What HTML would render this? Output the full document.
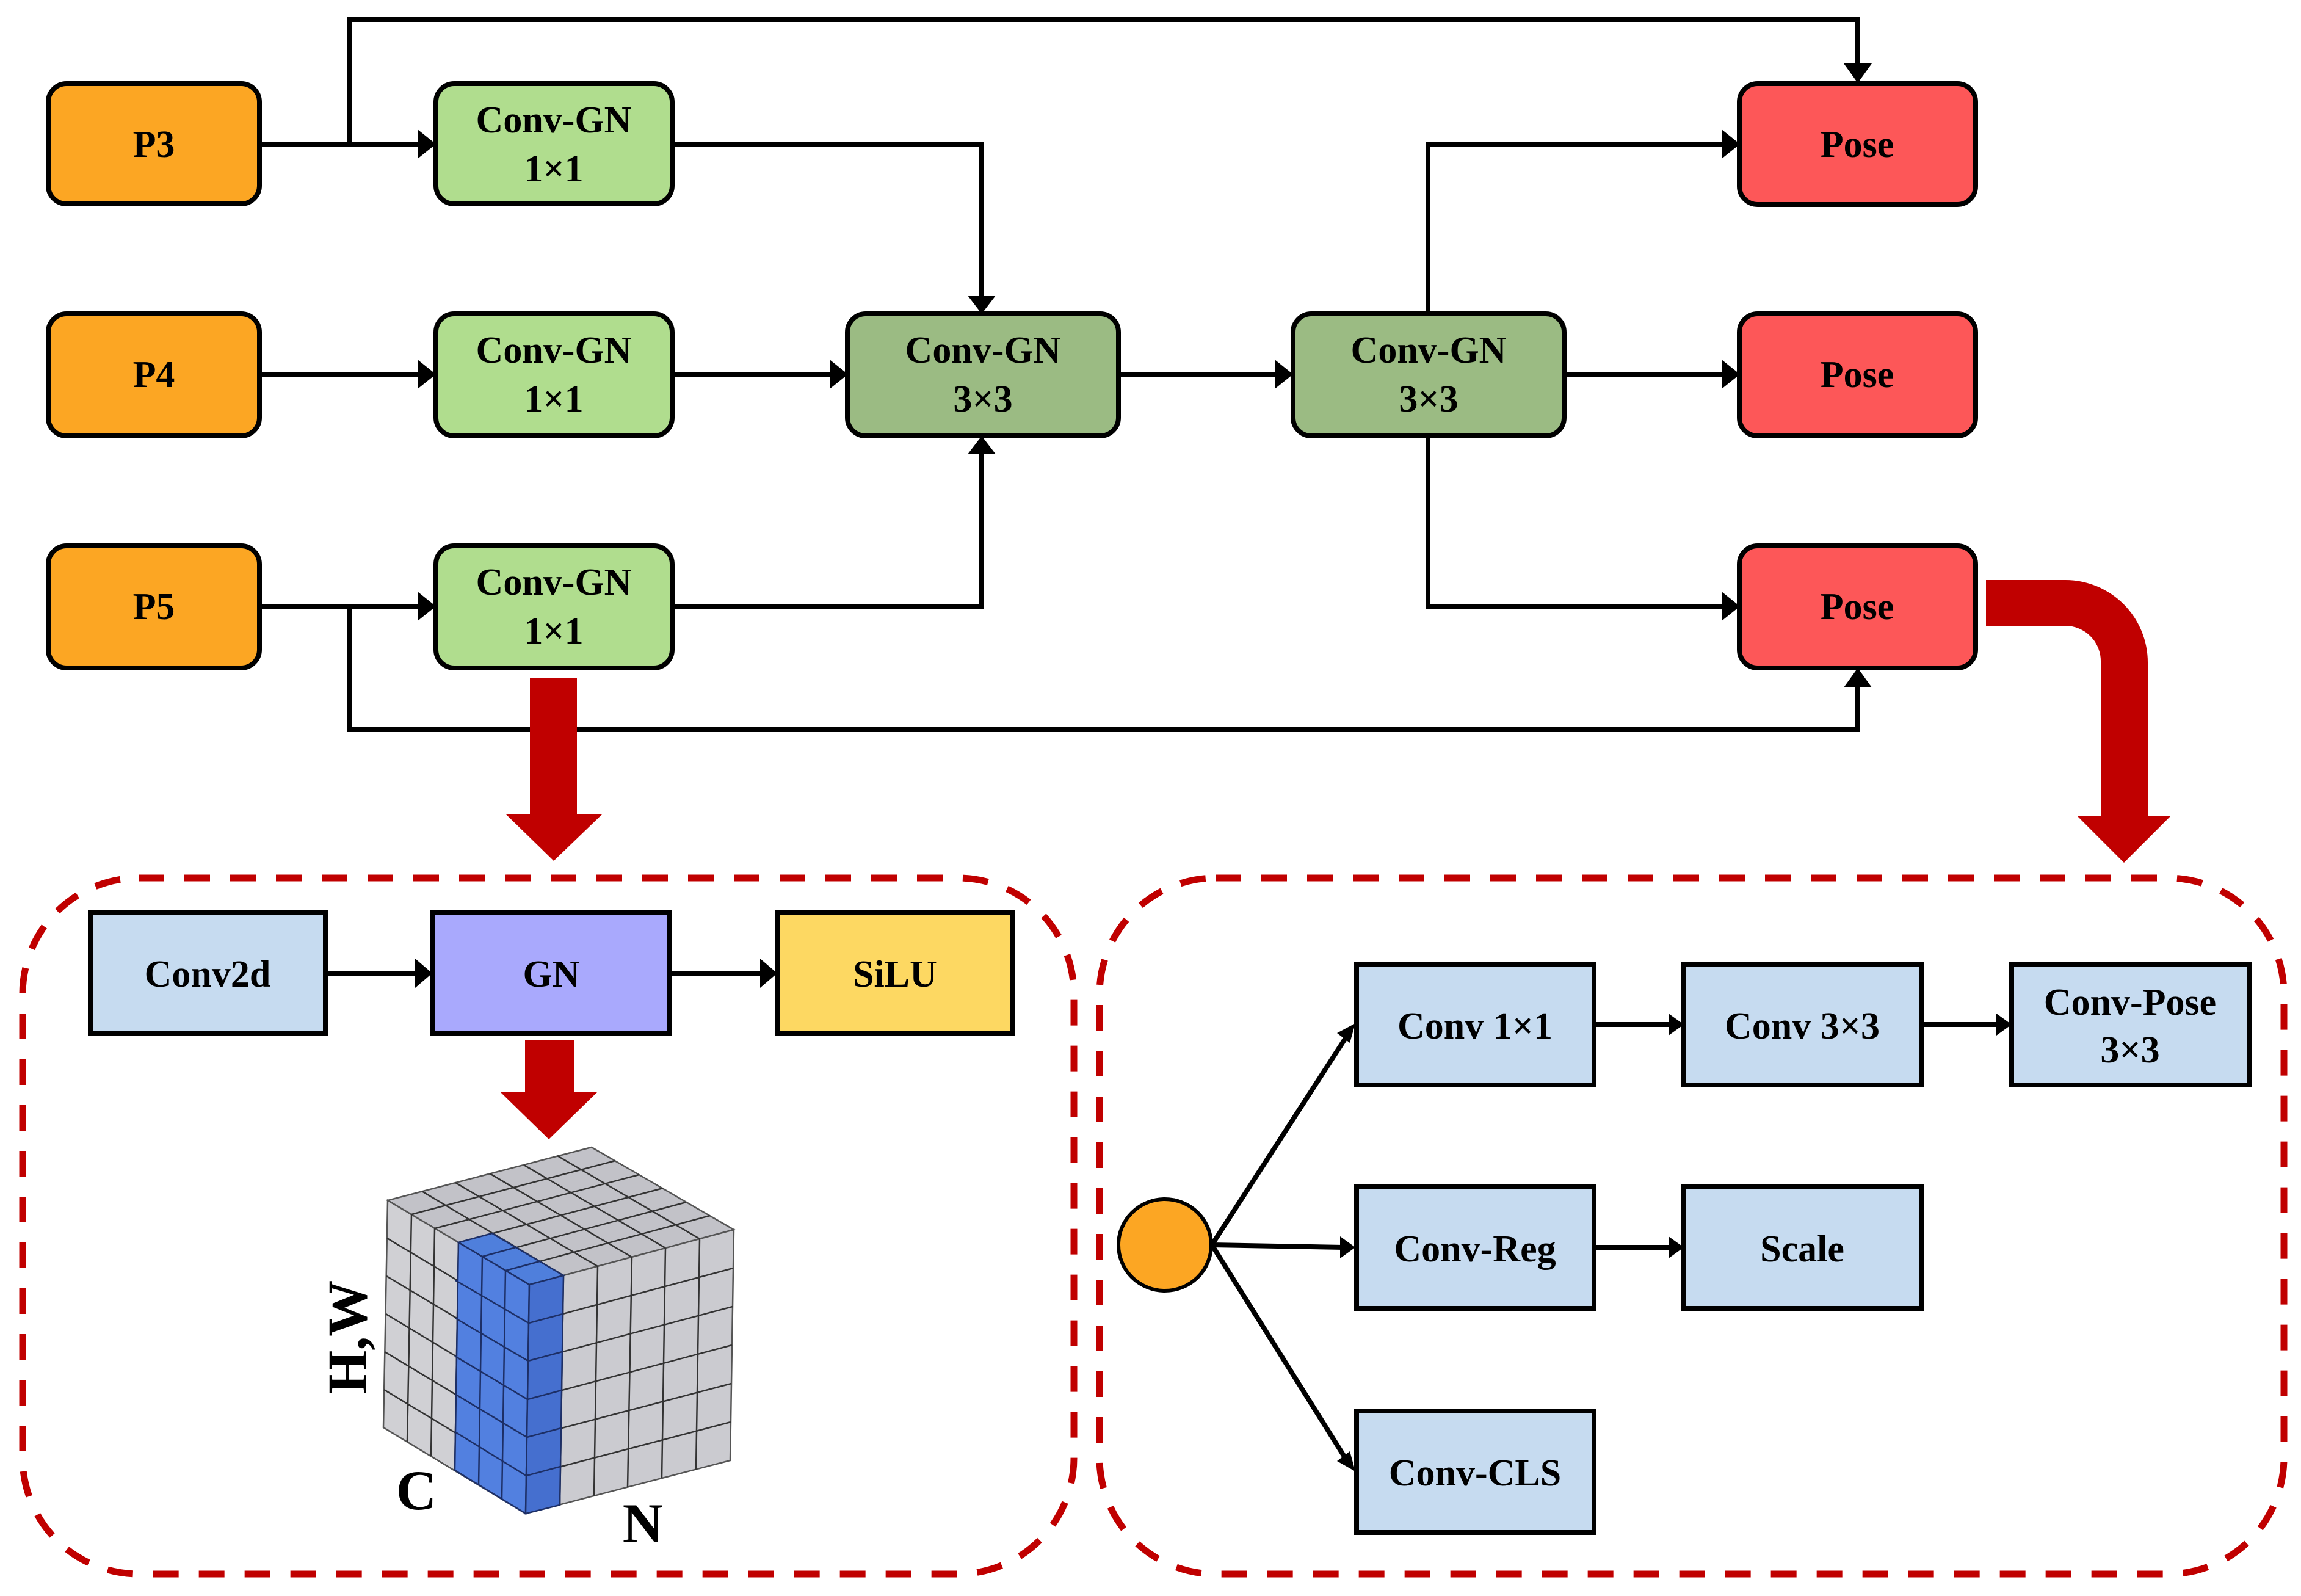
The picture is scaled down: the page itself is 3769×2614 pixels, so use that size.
<!DOCTYPE html>
<html><head><meta charset="utf-8"><style>
html,body{margin:0;padding:0;background:#fff}
svg{display:block}
svg text{font-family:"Liberation Serif","Times New Roman",serif !important;font-weight:bold;fill:#000}
</style></head><body>
<svg width="3769" height="2614" viewBox="0 0 3769 2614" xmlns="http://www.w3.org/2000/svg" font-family="Liberation Serif, serif" font-weight="bold">
<g stroke="#000" stroke-width="8" fill="none">
<polyline points="425,236 572,236"/>
<polyline points="572,236 572,32 3043,32 3043,110"/>
<polyline points="572,236 690,236"/>
<polyline points="425,613 690,613"/>
<polyline points="425,993 690,993"/>
<polyline points="572,993 572,1195 3043,1195 3043,1120"/>
<polyline points="1101,236 1608,236 1608,490"/>
<polyline points="1101,613 1365,613"/>
<polyline points="1101,993 1608,993 1608,738"/>
<polyline points="1832,613 2095,613"/>
<polyline points="2339,513 2339,236 2826,236"/>
<polyline points="2562,613 2826,613"/>
<polyline points="2339,715 2339,993 2826,993"/>
<polyline points="535,1594 682,1594"/>
<polyline points="1099,1594 1247,1594"/>
<polyline points="2612,1678 2735,1678"/>
<polyline points="3147,1678 3272,1678"/>
<polyline points="2612,2043 2735,2043"/>
<polyline points="1985,2039 2200,2043"/>
<line x1="1985" y1="2039" x2="2206" y2="1697"/>
<line x1="1985" y1="2039" x2="2206" y2="2392"/>
</g>
<g fill="#000">
<polygon points="714,236 684,212 684,260"/>
<polygon points="714,613 684,589 684,637"/>
<polygon points="714,993 684,969 684,1017"/>
<polygon points="1389,613 1359,589 1359,637"/>
<polygon points="2118,613 2088,589 2088,637"/>
<polygon points="2850,236 2820,212 2820,260"/>
<polygon points="2850,613 2820,589 2820,637"/>
<polygon points="2850,993 2820,969 2820,1017"/>
<polygon points="1608,514 1585,484 1631,484"/>
<polygon points="1608,714 1585,744 1631,744"/>
<polygon points="3043,136 3020,104 3066,104"/>
<polygon points="3043,1094 3020,1126 3066,1126"/>
<polygon points="708,1594 680,1570 680,1618"/>
<polygon points="1273,1594 1245,1570 1245,1618"/>
<polygon points="2758,1678 2733,1660 2733,1696"/>
<polygon points="3295,1678 3270,1660 3270,1696"/>
<polygon points="2758,2043 2733,2025 2733,2061"/>
<polygon points="2220,2043 2195,2025 2195,2061"/>
<polygon points="2220,1676 2190,1692 2211,1708"/>
<polygon points="2220,2410 2190,2393 2211,2377"/>
</g>
<g stroke="#000" stroke-width="8">
<rect x="79" y="137" width="346" height="197" rx="30" fill="#fca623"/>
<rect x="79" y="514" width="346" height="200" rx="30" fill="#fca623"/>
<rect x="79" y="894" width="346" height="200" rx="30" fill="#fca623"/>
<rect x="714" y="137" width="387" height="197" rx="30" fill="#b0dd8e"/>
<rect x="714" y="514" width="387" height="200" rx="30" fill="#b0dd8e"/>
<rect x="714" y="894" width="387" height="200" rx="30" fill="#b0dd8e"/>
<rect x="1388" y="514" width="444" height="200" rx="30" fill="#9bbb83"/>
<rect x="2118" y="514" width="444" height="200" rx="30" fill="#9bbb83"/>
<rect x="2849" y="137" width="387" height="198" rx="30" fill="#fd5758"/>
<rect x="2849" y="514" width="387" height="200" rx="30" fill="#fd5758"/>
<rect x="2849" y="894" width="387" height="200" rx="30" fill="#fd5758"/>
</g>
<g font-size="62" text-anchor="middle">
<text x="252" y="257">P3</text><text x="252" y="634">P4</text><text x="252" y="1014">P5</text>
<text x="907" y="217">Conv-GN</text><text x="907" y="297">1×1</text>
<text x="907" y="594">Conv-GN</text><text x="907" y="674">1×1</text>
<text x="907" y="974">Conv-GN</text><text x="907" y="1054">1×1</text>
<text x="1610" y="594">Conv-GN</text><text x="1610" y="674">3×3</text>
<text x="2340" y="594">Conv-GN</text><text x="2340" y="674">3×3</text>
<text x="3042" y="257">Pose</text><text x="3042" y="634">Pose</text><text x="3042" y="1014">Pose</text>
</g>
<g fill="#c00000">
<rect x="868" y="1110" width="77" height="226"/>
<polygon points="829,1334 986,1334 907,1410"/>
<rect x="860" y="1704" width="81" height="87"/>
<polygon points="820,1789 978,1789 899,1866"/>
<path d="M3253,950 L3383,950 A135,135 0 0 1 3518,1085 L3518,1337 L3441,1337 L3441,1085 A58,58 0 0 0 3383,1025 L3253,1025 Z"/>
<polygon points="3403,1337 3555,1337 3479,1413"/>
</g>
<g fill="none" stroke="#c00000" stroke-width="11" stroke-dasharray="42,33">
<rect x="37" y="1438" width="1722" height="1140" rx="190"/>
<rect x="1801" y="1438" width="1940" height="1140" rx="190"/>
</g>
<g stroke="#000" stroke-width="8">
<rect x="148" y="1495" width="385" height="198" fill="#c6dbf0"/>
<rect x="709" y="1495" width="388" height="198" fill="#a9a9fd"/>
<rect x="1274" y="1495" width="385" height="198" fill="#fdd862"/>
</g>
<g font-size="62" text-anchor="middle">
<text x="340" y="1616">Conv2d</text><text x="903" y="1616">GN</text><text x="1466" y="1616">SiLU</text>
</g>
<g stroke="#555" stroke-width="2.5">
<polygon points="635,1966 969,1879 1202,2014 867,2104" fill="#c2c2c8"/>
<polygon points="635,1966 867,2104 861,2479 628,2338" fill="#d0d0d4"/>
<polygon points="867,2104 1202,2014 1196,2392 861,2479" fill="#cbcbd0"/>
</g>
<g stroke="#333" stroke-width="2.5" fill="none">
<line x1="674" y1="1989" x2="667" y2="2361"/><line x1="712" y1="2012" x2="706" y2="2385"/>
<line x1="751" y1="2035" x2="745" y2="2408"/><line x1="790" y1="2058" x2="784" y2="2432"/>
<line x1="828" y1="2081" x2="822" y2="2455"/>
<line x1="634" y1="2028" x2="866" y2="2167"/><line x1="633" y1="2090" x2="865" y2="2229"/>
<line x1="632" y1="2152" x2="864" y2="2292"/><line x1="630" y1="2214" x2="863" y2="2354"/>
<line x1="629" y1="2276" x2="862" y2="2417"/>
<line x1="923" y1="2089" x2="917" y2="2465"/><line x1="979" y1="2074" x2="973" y2="2450"/>
<line x1="1035" y1="2059" x2="1028" y2="2436"/><line x1="1090" y1="2044" x2="1084" y2="2421"/>
<line x1="1146" y1="2029" x2="1140" y2="2407"/>
<line x1="866" y1="2167" x2="1201" y2="2077"/><line x1="865" y1="2229" x2="1200" y2="2140"/>
<line x1="864" y1="2292" x2="1199" y2="2203"/><line x1="863" y1="2354" x2="1198" y2="2266"/>
<line x1="862" y1="2417" x2="1197" y2="2329"/>
<line x1="691" y1="1951" x2="923" y2="2089"/><line x1="746" y1="1937" x2="979" y2="2074"/>
<line x1="802" y1="1922" x2="1035" y2="2059"/><line x1="858" y1="1908" x2="1090" y2="2044"/>
<line x1="913" y1="1893" x2="1146" y2="2029"/>
<line x1="674" y1="1989" x2="1008" y2="1901"/><line x1="712" y1="2012" x2="1047" y2="1924"/>
<line x1="751" y1="2035" x2="1086" y2="1946"/><line x1="790" y1="2058" x2="1124" y2="1969"/>
<line x1="828" y1="2081" x2="1163" y2="1991"/>
</g>
<g stroke="#1d2f66" stroke-width="2.5" fill="#4f7fdc">
<polygon points="751,2035 806,2020 923,2089 867,2104"/>
<polygon points="751,2035 867,2104 861,2479 745,2408" fill="#5280e0"/>
<polygon points="867,2104 923,2089 917,2465 861,2479" fill="#456fcf"/>
</g>
<g stroke="#1d2f66" stroke-width="2.5">
<line x1="790" y1="2058" x2="784" y2="2432"/><line x1="828" y1="2081" x2="822" y2="2455"/>
<line x1="790" y1="2058" x2="845" y2="2043"/><line x1="828" y1="2081" x2="884" y2="2066"/>
<line x1="746" y1="2097" x2="866" y2="2167"/><line x1="746" y1="2159" x2="865" y2="2229"/>
<line x1="745" y1="2221" x2="864" y2="2292"/><line x1="745" y1="2283" x2="863" y2="2354"/>
<line x1="745" y1="2345" x2="862" y2="2417"/>
<line x1="866" y1="2167" x2="922" y2="2152"/><line x1="865" y1="2229" x2="921" y2="2214"/>
<line x1="864" y1="2292" x2="920" y2="2277"/><line x1="863" y1="2354" x2="919" y2="2339"/>
<line x1="862" y1="2417" x2="918" y2="2402"/>
</g>
<text x="0" y="0" font-size="92" transform="translate(600,2190) rotate(-90)" text-anchor="middle">H,W</text>
<text x="682" y="2472" font-size="92" text-anchor="middle">C</text>
<text x="1053" y="2526" font-size="92" text-anchor="middle">N</text>
<ellipse cx="1908" cy="2039" rx="76" ry="75" fill="#fca623" stroke="#000" stroke-width="6"/>
<g stroke="#000" stroke-width="8" fill="#c6dbf0">
<rect x="2222" y="1579" width="389" height="198"/>
<rect x="2758" y="1579" width="389" height="198"/>
<rect x="3295" y="1579" width="389" height="198"/>
<rect x="2222" y="1944" width="389" height="199"/>
<rect x="2758" y="1944" width="389" height="199"/>
<rect x="2222" y="2311" width="389" height="199"/>
</g>
<g font-size="62" text-anchor="middle">
<text x="2416" y="1701">Conv 1×1</text>
<text x="2952" y="1701">Conv 3×3</text>
<text x="3489" y="1662">Conv-Pose</text><text x="3489" y="1740">3×3</text>
<text x="2416" y="2066">Conv-Reg</text>
<text x="2952" y="2066">Scale</text>
<text x="2416" y="2433">Conv-CLS</text>
</g>
</svg>
</body></html>
